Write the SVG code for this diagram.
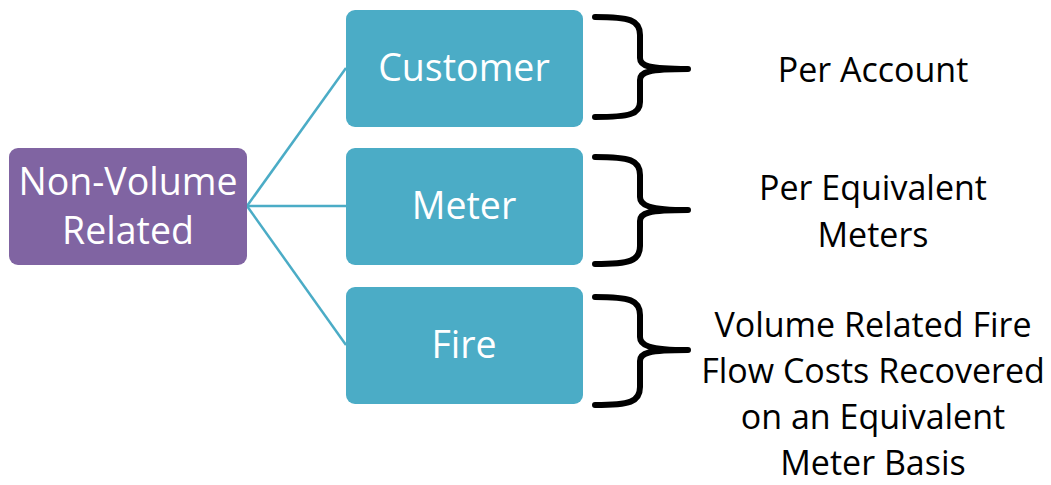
<svg xmlns="http://www.w3.org/2000/svg" width="1051" height="485" viewBox="0 0 1051 485">
<style>
.box{fill:#4BACC6}
.lbl{font-family:"Open Sans","Liberation Sans",sans-serif;font-size:37.5px;fill:#fff;text-anchor:middle}
.desc{font-family:"Open Sans","Liberation Sans",sans-serif;font-size:34px;fill:#000;text-anchor:middle}
.conn{stroke:#4BACC6;stroke-width:2.5;fill:none}
.brace{stroke:#000;stroke-width:6;fill:none;stroke-linecap:round;stroke-linejoin:round}
</style>
<rect width="1051" height="485" fill="#fff"/>
<g id="connectors">
<line class="conn" x1="247" y1="206" x2="346" y2="68"/>
<line class="conn" x1="247" y1="206" x2="346" y2="206"/>
<line class="conn" x1="247" y1="206" x2="346" y2="345"/>
</g>
<g id="non-volume">
<rect x="9" y="148" width="238" height="117" rx="9" fill="#8064A2"/>
<text class="lbl" x="128" y="195">Non-Volume</text>
<text class="lbl" x="128" y="244">Related</text>
</g>
<g id="customer">
<rect class="box" x="346" y="10" width="237" height="117" rx="9"/>
<text class="lbl" x="464" y="81">Customer</text>
</g>
<g id="meter">
<rect class="box" x="346" y="148" width="237" height="117" rx="9"/>
<text class="lbl" x="464" y="219">Meter</text>
</g>
<g id="fire">
<rect class="box" x="346" y="287" width="237" height="117" rx="9"/>
<text class="lbl" x="464" y="358">Fire</text>
</g>
<g id="brace-customer">
<path class="brace" d="M595,17 C630,17 640,20 640,35 L640,58 C640,66 648,69 688,69 C648,69 640,72 640,80 L640,102 C640,114 630,117 595,117"/>
<text class="desc" x="873" y="82">Per Account</text>
</g>
<g id="brace-meter">
<path class="brace" d="M595,157 C630,157 640,160 640,175 L640,197 C640,205 648,210 688,210 C648,210 640,213 640,221 L640,246 C640,261 630,264 595,264"/>
<text class="desc" x="873" y="200">Per Equivalent</text>
<text class="desc" x="873" y="247">Meters</text>
</g>
<g id="brace-fire">
<path class="brace" d="M595,297 C630,297 640,300 640,315 L640,337 C640,345 648,350 688,350 C648,350 640,353 640,361 L640,387 C640,402 630,405 595,405"/>
<text class="desc" x="873" y="337">Volume Related Fire</text>
<text class="desc" x="873" y="383">Flow Costs Recovered</text>
<text class="desc" x="873" y="429">on an Equivalent</text>
<text class="desc" x="873" y="475">Meter Basis</text>
</g>
</svg>
